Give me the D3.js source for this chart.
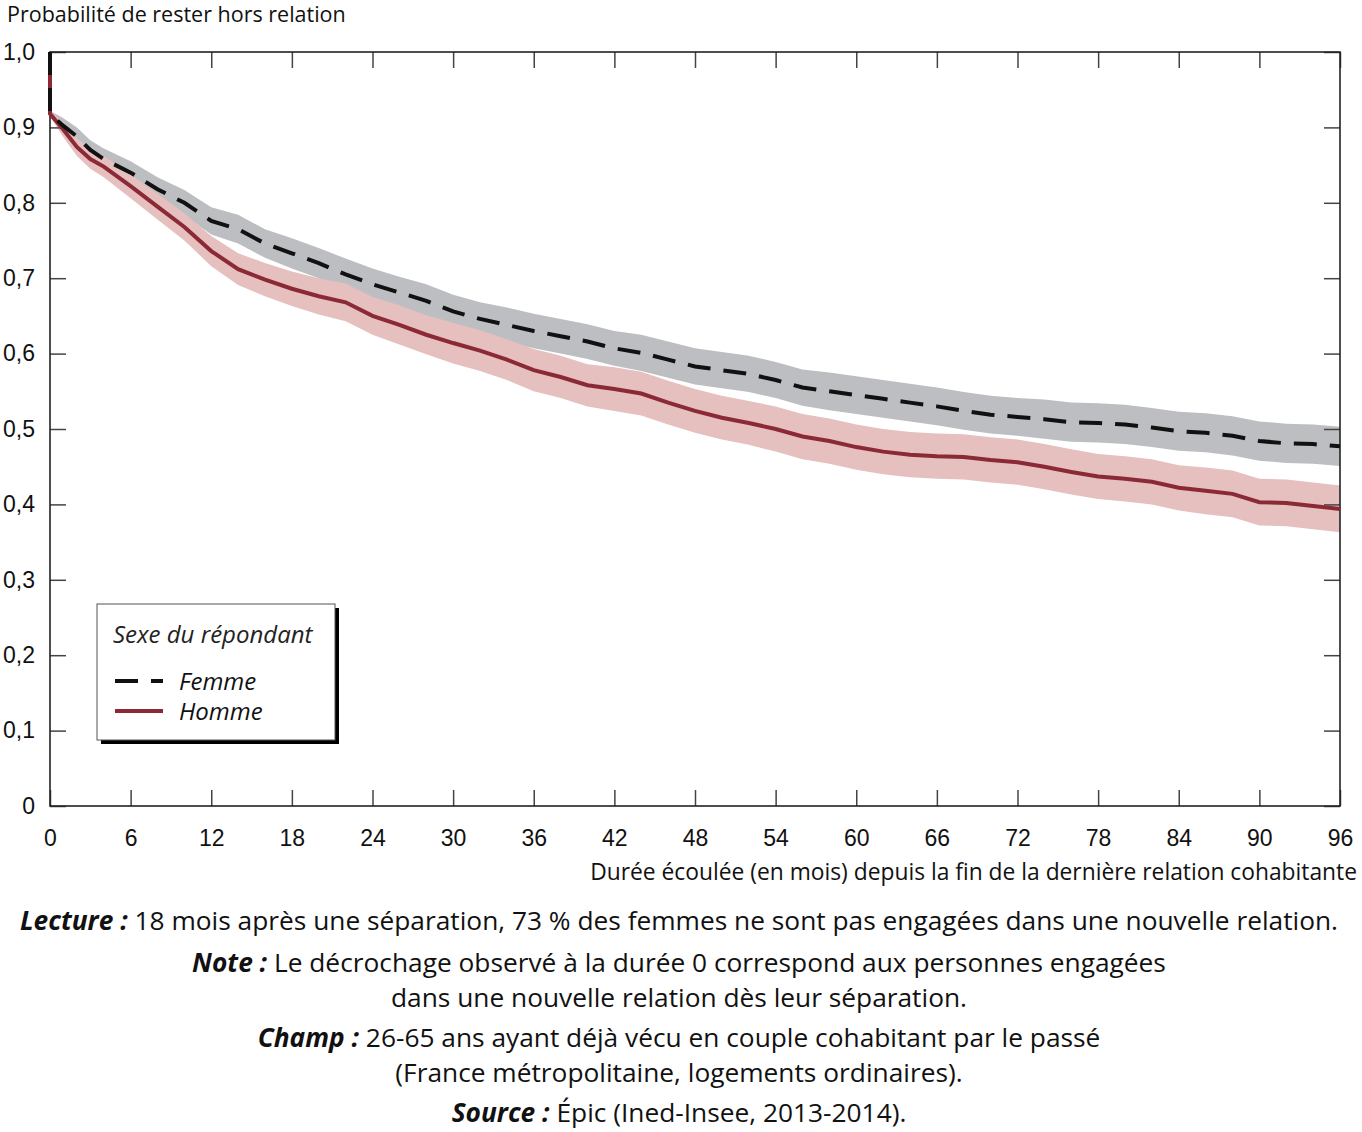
<!DOCTYPE html>
<html>
<head>
<meta charset="utf-8">
<script src="https://cdn.jsdelivr.net/npm/d3@7"></script>
<style>
  body { margin: 0; background: #fff; }
  svg { display: block; font-family: "Open Sans", "Noto Sans", sans-serif; }
</style>
</head>
<body>
<div id="app"></div>
<script>
// months since separation (0 appears twice: the drop at duration 0)
const months = [0, 0, 1, 2, 3, 4, 6, 8, 10, 12, 14, 16, 18, 20, 22, 24, 26, 28, 30, 32, 34, 36, 38, 40,
  42, 44, 46, 48, 50, 52, 54, 56, 58, 60, 62, 64, 66, 68, 70, 72, 74, 76, 78, 80, 82, 84, 86, 88, 90, 92, 94, 96];

const femme = [1.0, 0.918, 0.902, 0.888, 0.870, 0.858, 0.840, 0.818, 0.800, 0.776, 0.765, 0.746, 0.733, 0.720,
  0.705, 0.692, 0.681, 0.670, 0.656, 0.646, 0.638, 0.630, 0.623, 0.616, 0.607, 0.601, 0.592, 0.583, 0.578,
  0.573, 0.565, 0.555, 0.550, 0.545, 0.540, 0.535, 0.530, 0.524, 0.519, 0.516, 0.513, 0.509, 0.508, 0.506,
  0.502, 0.497, 0.495, 0.491, 0.484, 0.481, 0.480, 0.477];
const femmeLow = [null, 0.914, 0.892, 0.876, 0.857, 0.844, 0.825, 0.802, 0.783, 0.758, 0.746, 0.727, 0.713, 0.700,
  0.684, 0.671, 0.660, 0.648, 0.634, 0.624, 0.615, 0.607, 0.600, 0.593, 0.584, 0.577, 0.568, 0.559, 0.554,
  0.549, 0.541, 0.531, 0.525, 0.520, 0.515, 0.510, 0.505, 0.499, 0.494, 0.491, 0.487, 0.483, 0.482, 0.480,
  0.476, 0.471, 0.469, 0.465, 0.458, 0.455, 0.454, 0.451];
const femmeHigh = [null, 0.922, 0.912, 0.900, 0.883, 0.872, 0.855, 0.834, 0.817, 0.794, 0.784, 0.765, 0.753, 0.740,
  0.726, 0.713, 0.702, 0.692, 0.678, 0.668, 0.661, 0.653, 0.646, 0.639, 0.630, 0.625, 0.616, 0.607, 0.602,
  0.597, 0.589, 0.579, 0.575, 0.570, 0.565, 0.560, 0.555, 0.549, 0.544, 0.541, 0.539, 0.535, 0.534, 0.532,
  0.528, 0.523, 0.521, 0.517, 0.510, 0.507, 0.506, 0.503];

const homme = [1.0, 0.918, 0.897, 0.874, 0.858, 0.848, 0.822, 0.795, 0.768, 0.736, 0.712, 0.698, 0.686, 0.676,
  0.668, 0.650, 0.638, 0.625, 0.614, 0.604, 0.592, 0.578, 0.569, 0.558, 0.553, 0.547, 0.535, 0.524, 0.515,
  0.508, 0.500, 0.490, 0.484, 0.476, 0.470, 0.466, 0.464, 0.463, 0.459, 0.456, 0.450, 0.443, 0.437, 0.434,
  0.430, 0.422, 0.418, 0.414, 0.403, 0.402, 0.398, 0.394];
const hommeLow = [null, 0.914, 0.887, 0.862, 0.845, 0.834, 0.806, 0.778, 0.750, 0.716, 0.691, 0.676, 0.663, 0.652,
  0.643, 0.625, 0.612, 0.599, 0.587, 0.577, 0.565, 0.550, 0.541, 0.530, 0.524, 0.518, 0.506, 0.495, 0.486,
  0.479, 0.470, 0.460, 0.454, 0.446, 0.440, 0.436, 0.434, 0.433, 0.429, 0.426, 0.420, 0.413, 0.407, 0.404,
  0.400, 0.392, 0.387, 0.383, 0.372, 0.371, 0.367, 0.363];
const hommeHigh = [null, 0.922, 0.907, 0.886, 0.871, 0.862, 0.838, 0.812, 0.786, 0.756, 0.733, 0.720, 0.709, 0.700,
  0.693, 0.675, 0.664, 0.651, 0.641, 0.631, 0.619, 0.606, 0.597, 0.586, 0.582, 0.576, 0.564, 0.553, 0.544,
  0.537, 0.530, 0.520, 0.514, 0.506, 0.500, 0.496, 0.494, 0.493, 0.489, 0.486, 0.480, 0.473, 0.467, 0.464,
  0.460, 0.452, 0.449, 0.445, 0.434, 0.433, 0.429, 0.425];

const xTicks = [0, 6, 12, 18, 24, 30, 36, 42, 48, 54, 60, 66, 72, 78, 84, 90, 96];
const yTicks = [0, 0.1, 0.2, 0.3, 0.4, 0.5, 0.6, 0.7, 0.8, 0.9, 1.0];

const legendItems = [
  { label: 'Femme', color: '#111', dash: '23,13' },
  { label: 'Homme', color: '#8b2a36', dash: null }
];

const captions = [
  { y: 930, bold: 'Lecture :', text: ' 18 mois après une séparation, 73 % des femmes ne sont pas engagées dans une nouvelle relation.' },
  { y: 972, bold: 'Note :', text: ' Le décrochage observé à la durée 0 correspond aux personnes engagées' },
  { y: 1007, bold: '', text: 'dans une nouvelle relation dès leur séparation.' },
  { y: 1047, bold: 'Champ :', text: ' 26-65 ans ayant déjà vécu en couple cohabitant par le passé' },
  { y: 1082, bold: '', text: '(France métropolitaine, logements ordinaires).' },
  { y: 1122, bold: 'Source :', text: ' Épic (Ined-Insee, 2013-2014).' }
];

const width = 1362;
const height = 1132;
const margin = { left: 50, right: 22, top: 52, bottom: 326 };
const innerW = width - margin.left - margin.right;
const innerH = height - margin.top - margin.bottom;

const x = d3.scaleLinear().domain([0, 96]).range([0, innerW]);
const y = d3.scaleLinear().domain([0, 1]).range([innerH, 0]);

const fmt = d => d === 0 ? '0' : d.toFixed(1).replace('.', ',');

const svg = d3.select('#app').append('svg')
  .attr('width', width)
  .attr('height', height);

const g = svg.append('g')
  .attr('transform', `translate(${margin.left},${margin.top})`);

const rows = (vals, lo, hi) => months.map((m, i) => ({ m, v: vals[i], lo: lo[i], hi: hi[i] }));
const femmeRows = rows(femme, femmeLow, femmeHigh);
const hommeRows = rows(homme, hommeLow, hommeHigh);

const area = d3.area()
  .defined(d => d.lo != null)
  .x(d => x(d.m))
  .y0(d => y(d.lo))
  .y1(d => y(d.hi));

const line = d3.line()
  .x(d => x(d.m))
  .y(d => y(d.v));

// 1. confidence bands
g.append('path').datum(femmeRows).attr('d', area).attr('fill', '#bcbec1');
g.append('path').datum(hommeRows).attr('d', area).attr('fill', '#e6bfbf');

// 2. frame and ticks
const styleAxis = sel => {
  sel.select('.domain').remove();
  sel.selectAll('.tick line').attr('stroke', '#444').attr('stroke-width', 1.5);
  sel.selectAll('text').attr('font-size', 23).attr('fill', '#111');
};

g.append('g')
  .attr('transform', `translate(0,${innerH})`)
  .call(d3.axisBottom(x).tickValues(xTicks).tickSize(-16).tickPadding(24).tickFormat(d3.format('d')))
  .call(styleAxis);

g.append('g')
  .call(d3.axisTop(x).tickValues(xTicks).tickSize(-16).tickFormat(''))
  .call(styleAxis);

g.append('g')
  .call(d3.axisLeft(y).tickValues(yTicks).tickSize(-16).tickPadding(15).tickFormat(fmt))
  .call(styleAxis)
  .selectAll('text').attr('x', -15);

g.append('g')
  .attr('transform', `translate(${innerW},0)`)
  .call(d3.axisRight(y).tickValues(yTicks).tickSize(-16).tickFormat(''))
  .call(styleAxis);

g.append('rect')
  .attr('x', 0).attr('y', 0)
  .attr('width', innerW).attr('height', innerH)
  .attr('fill', 'none')
  .attr('stroke', '#222')
  .attr('stroke-width', 1.6);

// 3. survival curves
g.append('path').datum(hommeRows)
  .attr('d', line)
  .attr('fill', 'none')
  .attr('stroke', legendItems[1].color)
  .attr('stroke-width', 4);

g.append('path').datum(femmeRows)
  .attr('d', line)
  .attr('fill', 'none')
  .attr('stroke', legendItems[0].color)
  .attr('stroke-width', 4)
  .attr('stroke-dasharray', legendItems[0].dash);

// 4. axis titles
svg.append('text')
  .attr('x', 7).attr('y', 22)
  .attr('font-size', 21.5).attr('fill', '#111')
  .text('Probabilité de rester hors relation');

svg.append('text')
  .attr('x', 1357).attr('y', 880)
  .attr('text-anchor', 'end')
  .attr('font-size', 22.8).attr('fill', '#111')
  .text('Durée écoulée (en mois) depuis la fin de la dernière relation cohabitante');

// 5. legend
const legend = svg.append('g').attr('transform', 'translate(97,604)');
legend.append('rect')
  .attr('x', 4).attr('y', 4).attr('width', 238).attr('height', 136)
  .attr('fill', '#000');
legend.append('rect')
  .attr('x', 0).attr('y', 0).attr('width', 238).attr('height', 136)
  .attr('fill', '#fff').attr('stroke', '#555').attr('stroke-width', 1);
legend.append('text')
  .attr('x', 16).attr('y', 39)
  .attr('font-size', 24).attr('font-style', 'italic').attr('fill', '#222')
  .text('Sexe du répondant');

const item = legend.selectAll('.item')
  .data(legendItems)
  .enter()
    .append('g')
    .attr('transform', (d, i) => `translate(0,${77 + i * 30})`);

item.append('line')
  .attr('x1', 18).attr('x2', 66)
  .attr('stroke', d => d.color)
  .attr('stroke-width', 4)
  .attr('stroke-dasharray', d => d.dash);

item.append('text')
  .attr('x', 82).attr('y', 9)
  .attr('font-size', 24).attr('font-style', 'italic').attr('fill', '#111')
  .text(d => d.label);

// 6. notes under the chart
const cap = svg.selectAll('.caption')
  .data(captions)
  .enter()
    .append('text')
    .attr('x', 679).attr('y', d => d.y)
    .attr('text-anchor', 'middle')
    .attr('font-size', 26.3).attr('fill', '#111');

cap.append('tspan')
  .attr('font-weight', 'bold').attr('font-style', 'italic')
  .text(d => d.bold);
cap.append('tspan').text(d => d.text);
</script>
</body>
</html>
